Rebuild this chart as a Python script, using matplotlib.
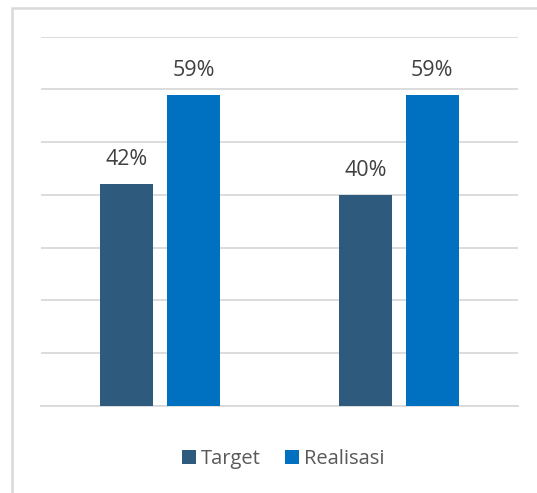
import numpy as np
import matplotlib.pyplot as plt
from matplotlib.patches import Rectangle

# Data
categories = ["Periode 1", "Periode 2"]
target = [42, 40]
realisasi = [59, 59]
series_names = ["Target", "Realisasi"]
y_ticks = [0, 10, 20, 30, 40, 50, 60, 70]

color_target = "#2E5A7E"
color_real = "#0070C0"
grid_color = "#D9D9D9"
text_color = "#404040"

plt.rcParams["font.family"] = ["Open Sans", "DejaVu Sans"]


def main():
    fig = plt.figure(figsize=(5.37, 4.93), dpi=100)
    ax = fig.add_axes([41 / 537, 1 - 406 / 493, 477 / 537, 369.5 / 493])

    x = np.arange(len(categories))
    width = 0.222
    offset = 0.14
    bars_t = ax.bar(x - offset, target, width, color=color_target,
                    label=series_names[0], zorder=3)
    bars_r = ax.bar(x + offset, realisasi, width, color=color_real,
                    label=series_names[1], zorder=3)

    # Data labels above the bars
    for bars in (bars_t, bars_r):
        for b in bars:
            h = b.get_height()
            ax.annotate("%d%%" % h, (b.get_x() + b.get_width() / 2, h),
                        xytext=(0, 10), textcoords="offset points",
                        ha="center", va="bottom", fontsize=15.5,
                        color=text_color)

    ax.set_xlim(-0.5, len(categories) - 0.5)
    ax.set_ylim(y_ticks[0], y_ticks[-1])
    ax.set_yticks(y_ticks)
    ax.yaxis.grid(True, color=grid_color, linewidth=1.3, zorder=0)
    ax.set_axisbelow(True)
    for side in ["top", "right", "left"]:
        ax.spines[side].set_visible(False)
    ax.spines["bottom"].set_color(grid_color)
    ax.spines["bottom"].set_linewidth(1.3)
    ax.tick_params(bottom=False, labelbottom=False, left=False,
                   labelleft=False)

    leg = fig.legend(loc="center", bbox_to_anchor=(283 / 537, 1 - 459 / 493),
                     ncol=2, frameon=False, fontsize=14.5, handlelength=0.7,
                     handleheight=0.7, handletextpad=0.25, columnspacing=1.2)
    for t in leg.get_texts():
        t.set_color("#595959")

    # Light outer frame of the chart area
    fig.patches.append(Rectangle((12 / 537, -0.1), 1.2, 1 - 8 / 493 + 0.1,
                                 transform=fig.transFigure, fill=False,
                                 edgecolor=grid_color, linewidth=1.8))

    fig.savefig("out.png", dpi=100)
    plt.close(fig)


if __name__ == "__main__":
    main()
